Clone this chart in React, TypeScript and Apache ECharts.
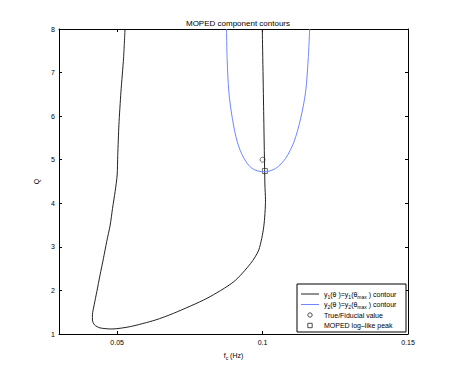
import React, { useEffect, useRef } from "react";
import * as echarts from "echarts";

const xTicks = [0.05, 0.1, 0.15];

// y1(theta) = y1(theta_max) contour (black)
const contour1: [number, number][] = [
  [0.0527, 8.0], [0.0522, 7.33], [0.0513, 6.56], [0.0506, 5.8], [0.0502, 5.1],
  [0.05, 4.65], [0.0493, 4.27], [0.0484, 3.88], [0.0476, 3.5], [0.0464, 3.12],
  [0.0453, 2.74], [0.0441, 2.35], [0.043, 1.97], [0.0421, 1.67], [0.0415, 1.44],
  [0.0415, 1.32], [0.0422, 1.21], [0.0441, 1.14], [0.0482, 1.115], [0.0545, 1.17],
  [0.0631, 1.32], [0.0694, 1.475], [0.0809, 1.82], [0.0901, 2.2], [0.0959, 2.62],
  [0.0987, 2.93], [0.1004, 3.46], [0.101, 4.08], [0.1008, 4.42], [0.1004, 6.0],
  [0.0999, 8.0],
];

// y2(theta) = y2(theta_max) contour (blue)
const contour2: [number, number][] = [
  [0.0876, 8.0], [0.0878, 7.33], [0.0884, 6.56], [0.0896, 5.95], [0.0913, 5.41],
  [0.0936, 5.03], [0.0964, 4.8], [0.1005, 4.72], [0.1045, 4.8], [0.1079, 5.03],
  [0.1108, 5.41], [0.1131, 5.95], [0.1148, 6.56], [0.1157, 7.33], [0.1162, 8.0],
];

const fiducial: [number, number][] = [[0.1, 5.0]];
const mopedPeak: [number, number][] = [[0.1008, 4.74]];

const legendLabels = [
  "{n|y}{s|1}{n|(\u03b8 )=y}{s|1}{n|(\u03b8}{s|max}{n| ) contour}",
  "{n|y}{s|2}{n|(\u03b8 )=y}{s|2}{n|(\u03b8}{s|max}{n| ) contour}",
  "{n|True/Fiducial value}",
  "{n|MOPED log\u2013like peak}",
];

const FONT = "Liberation Sans, Arial, sans-serif";
const BLACK = "#222";
const BLUE = "#6f86ff";

export default function App() {
  const ref = useRef<HTMLDivElement>(null);
  useEffect(() => {
    if (!ref.current) return;
    const chart = echarts.init(ref.current, null, { renderer: "svg" });
    const rich = {
      n: { fontSize: 7, fontFamily: FONT, fill: "#000", lineHeight: 10 },
      s: { fontSize: 5, fontFamily: FONT, fill: "#000", padding: [5, 0, 0, 0], lineHeight: 10 },
    };
    const axisCommon = {
      type: "value" as const,
      splitLine: { show: false },
      axisLine: { show: true, onZero: false, lineStyle: { color: "#000", width: 1 } },
    };
    const LX = 297, LY = 284, LW = 109, LH = 48;
    const rowY = [294, 304.5, 315, 325.5];
    const iconX0 = 301, iconX1 = 319, textX = 324;
    const legendGraphics: any[] = [
      {
        type: "rect",
        shape: { x: LX, y: LY, width: LW, height: LH },
        style: { fill: "#fff", stroke: "#000", lineWidth: 1 },
        z: 100,
      },
      {
        type: "line",
        shape: { x1: iconX0, y1: rowY[0], x2: iconX1, y2: rowY[0] },
        style: { stroke: BLACK, lineWidth: 1 },
        z: 101,
      },
      {
        type: "line",
        shape: { x1: iconX0, y1: rowY[1], x2: iconX1, y2: rowY[1] },
        style: { stroke: BLUE, lineWidth: 1 },
        z: 101,
      },
      {
        type: "circle",
        shape: { cx: (iconX0 + iconX1) / 2, cy: rowY[2], r: 2.2 },
        style: { fill: "none", stroke: BLACK, lineWidth: 0.8 },
        z: 101,
      },
      {
        type: "rect",
        shape: { x: (iconX0 + iconX1) / 2 - 2.2, y: rowY[3] - 2.2, width: 4.4, height: 4.4 },
        style: { fill: "none", stroke: BLACK, lineWidth: 0.8 },
        z: 101,
      },
      ...legendLabels.map((t, i) => ({
        type: "text",
        x: textX,
        y: rowY[i],
        z: 101,
        style: {
          text: t,
          rich,
          fontSize: 7,
          fontFamily: FONT,
          fill: "#000",
          verticalAlign: "middle",
          align: "left",
        },
      })),
    ];
    chart.setOption({
      animation: false,
      backgroundColor: "#fff",
      title: {
        text: "MOPED component contours",
        left: 233,
        top: 14,
        textAlign: "center",
        textStyle: { fontSize: 8, fontWeight: "normal", fontFamily: FONT, color: "#000" },
      },
      grid: { left: 59, right: 42, top: 29, bottom: 43, show: false },
      xAxis: [
        {
          ...axisCommon,
          min: 0.03,
          max: 0.15,
          position: "bottom",
          name: "f{s|c} (Hz)",
          nameLocation: "middle",
          nameGap: 16,
          nameTextStyle: {
            fontSize: 7,
            fontFamily: FONT,
            color: "#000",
            rich: { s: { fontSize: 5, padding: [5, 0, 0, 0], fontFamily: FONT, color: "#000" } },
          },
          axisTick: { show: true, inside: true, length: 3, customValues: xTicks, lineStyle: { color: "#000" } },
          axisLabel: {
            show: true,
            customValues: xTicks,
            fontSize: 7,
            fontFamily: FONT,
            color: "#000",
            margin: 5,
            formatter: (v: number) => String(Number(v.toFixed(4))),
          },
        },
        {
          ...axisCommon,
          min: 0.03,
          max: 0.15,
          position: "top",
          axisTick: { show: true, inside: true, length: 3, customValues: xTicks, lineStyle: { color: "#000" } },
          axisLabel: { show: false },
        },
      ],
      yAxis: [
        {
          ...axisCommon,
          min: 1,
          max: 8,
          interval: 1,
          position: "left",
          name: "Q",
          nameLocation: "middle",
          nameGap: 14,
          nameRotate: 90,
          nameTextStyle: { fontSize: 7, fontFamily: FONT, color: "#000" },
          axisTick: { show: true, inside: true, length: 3, lineStyle: { color: "#000" } },
          axisLabel: { fontSize: 7, fontFamily: FONT, color: "#000", margin: 4 },
        },
        {
          ...axisCommon,
          min: 1,
          max: 8,
          interval: 1,
          position: "right",
          axisTick: { show: true, inside: true, length: 3, lineStyle: { color: "#000" } },
          axisLabel: { show: false },
        },
      ],
      graphic: legendGraphics,
      series: [
        {
          name: "y1 contour",
          type: "line",
          data: contour1,
          symbol: "none",
          smooth: 0.25,
          lineStyle: { color: BLACK, width: 1 },
          itemStyle: { color: BLACK },
        },
        {
          name: "y2 contour",
          type: "line",
          data: contour2,
          symbol: "none",
          smooth: 0.3,
          lineStyle: { color: BLUE, width: 1 },
          itemStyle: { color: BLUE },
        },
        {
          name: "True/Fiducial value",
          type: "scatter",
          data: fiducial,
          symbol: "circle",
          symbolSize: 5,
          itemStyle: { color: "rgba(0,0,0,0)", borderColor: BLACK, borderWidth: 0.8 },
        },
        {
          name: "MOPED log-like peak",
          type: "scatter",
          data: mopedPeak,
          symbol: "rect",
          symbolSize: 5,
          itemStyle: { color: "rgba(0,0,0,0)", borderColor: BLACK, borderWidth: 0.8 },
        },
      ],
    });
    return () => chart.dispose();
  }, []);
  return (
    <div
      ref={ref}
      style={{ position: "fixed", left: 0, top: 0, width: 450, height: 377, background: "#fff" }}
    />
  );
}
